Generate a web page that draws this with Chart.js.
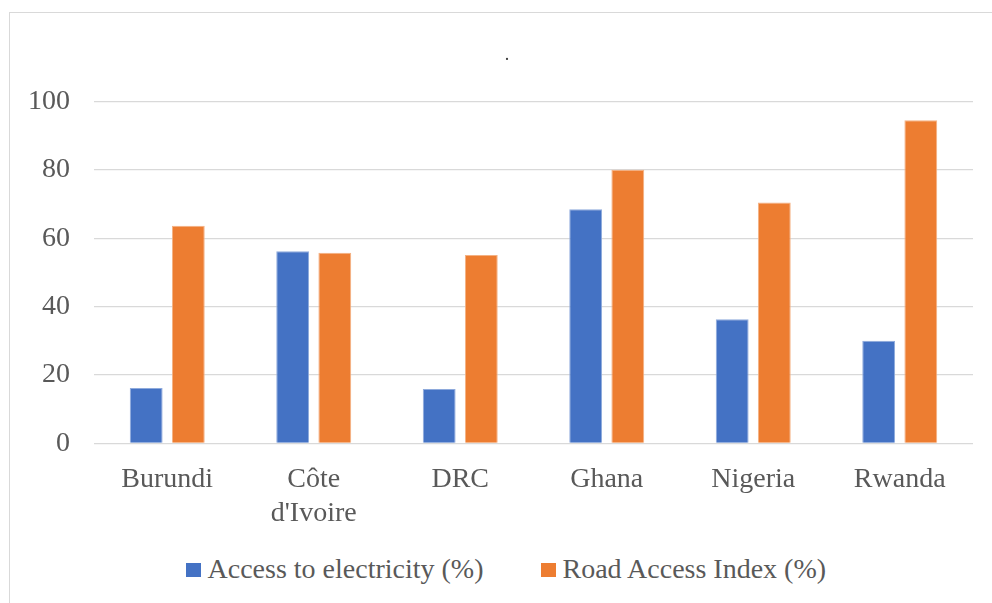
<!DOCTYPE html>
<html>
<head>
<meta charset="utf-8">
<script src="https://cdn.jsdelivr.net/npm/chart.js@4.4.0/dist/chart.umd.min.js"></script>
<style>
  html, body { margin: 0; padding: 0; background: #fff; overflow: hidden; }
  #box {
    position: absolute; left: 9px; top: 12px;
    width: 994px; height: 620px;
    border: 1px solid #d9d9d9; background: #fff;
  }
  #wrap { position: absolute; left: 0; top: 0; width: 994px; height: 520px; }
  #titulo { position: absolute; left: 437px; width: 120px; top: 31px; text-align: center;
    font: 18px "Liberation Serif", "Times New Roman", serif; color: #404040; line-height: 20px; }
  .leg { position: absolute; font: 28px "Liberation Serif", "Times New Roman", serif; color: #595959; line-height: 28px; white-space: nowrap; }
  .sw { position: absolute; width: 15px; height: 14px; }
</style>
</head>
<body>
<div id="box">
  <div id="wrap"><canvas id="grafico"></canvas></div>
  <div id="titulo">.</div>
</div>
<div id="legend"></div>
<script>
// datos
const paises = ['Burundi', ['Côte', "d'Ivoire"], 'DRC', 'Ghana', 'Nigeria', 'Rwanda'];
const electricidad = [16.2, 56.2, 15.9, 68.5, 36.3, 30.0];
const caminos = [63.7, 55.8, 55.1, 80.1, 70.5, 94.6];
const ticksY = [0, 20, 40, 60, 80, 100];
const series = ['Access to electricity (%)', 'Road Access Index (%)'];

const azul = '#4472c4', naranja = '#ed7d31';
const gris = '#595959';
const fuente = '"Liberation Serif", "Times New Roman", serif';

const ctx = document.getElementById('grafico').getContext('2d');
const chart = new Chart(ctx, {
  type: 'bar',
  data: {
    labels: paises,
    datasets: [
      { label: series[0], data: electricidad, backgroundColor: azul, borderColor: '#8eaadc', borderWidth: 1 },
      { label: series[1], data: caminos, backgroundColor: naranja, borderColor: '#f4b183', borderWidth: 1 }
    ]
  },
  options: {
    responsive: true,
    maintainAspectRatio: false,
    animation: false,
    categoryPercentage: 0.575,
    barPercentage: 0.78,
    layout: { padding: { left: 0, right: 31, top: 88.7, bottom: 0 } },
    plugins: {
      legend: { display: false },
      tooltip: { enabled: false },
      title: { display: false }
    },
    scales: {
      x: {
        grid: { display: false, drawTicks: false },
        border: { display: false },
        ticks: { color: gris, font: { family: fuente, size: 28, lineHeight: 1.2 }, padding: 20, maxRotation: 0, autoSkip: false },
        afterFit(scale) { scale.height = 89.7; }
      },
      y: {
        min: 0, max: 100,
        afterBuildTicks(scale) { scale.ticks = ticksY.map(v => ({ value: v })); },
        grid: { color: '#d9d9d9', lineWidth: 1.3, drawTicks: false },
        border: { display: false },
        ticks: { color: gris, font: { family: fuente, size: 28 }, padding: 24 },
        afterFit(scale) { scale.width = 84; }
      }
    }
  }
});

// leyenda en html, armada desde los datasets
const legend = document.getElementById('legend');
const posiciones = [186, 541];
chart.data.datasets.forEach((ds, i) => {
  const sw = document.createElement('div');
  sw.className = 'sw';
  sw.style.left = posiciones[i] + 'px';
  sw.style.top = '563px';
  sw.style.background = ds.backgroundColor;
  legend.appendChild(sw);
  const t = document.createElement('div');
  t.className = 'leg';
  t.style.left = (posiciones[i] + 21.5) + 'px';
  t.style.top = '555px';
  t.textContent = ds.label;
  legend.appendChild(t);
});
</script>
</body>
</html>
